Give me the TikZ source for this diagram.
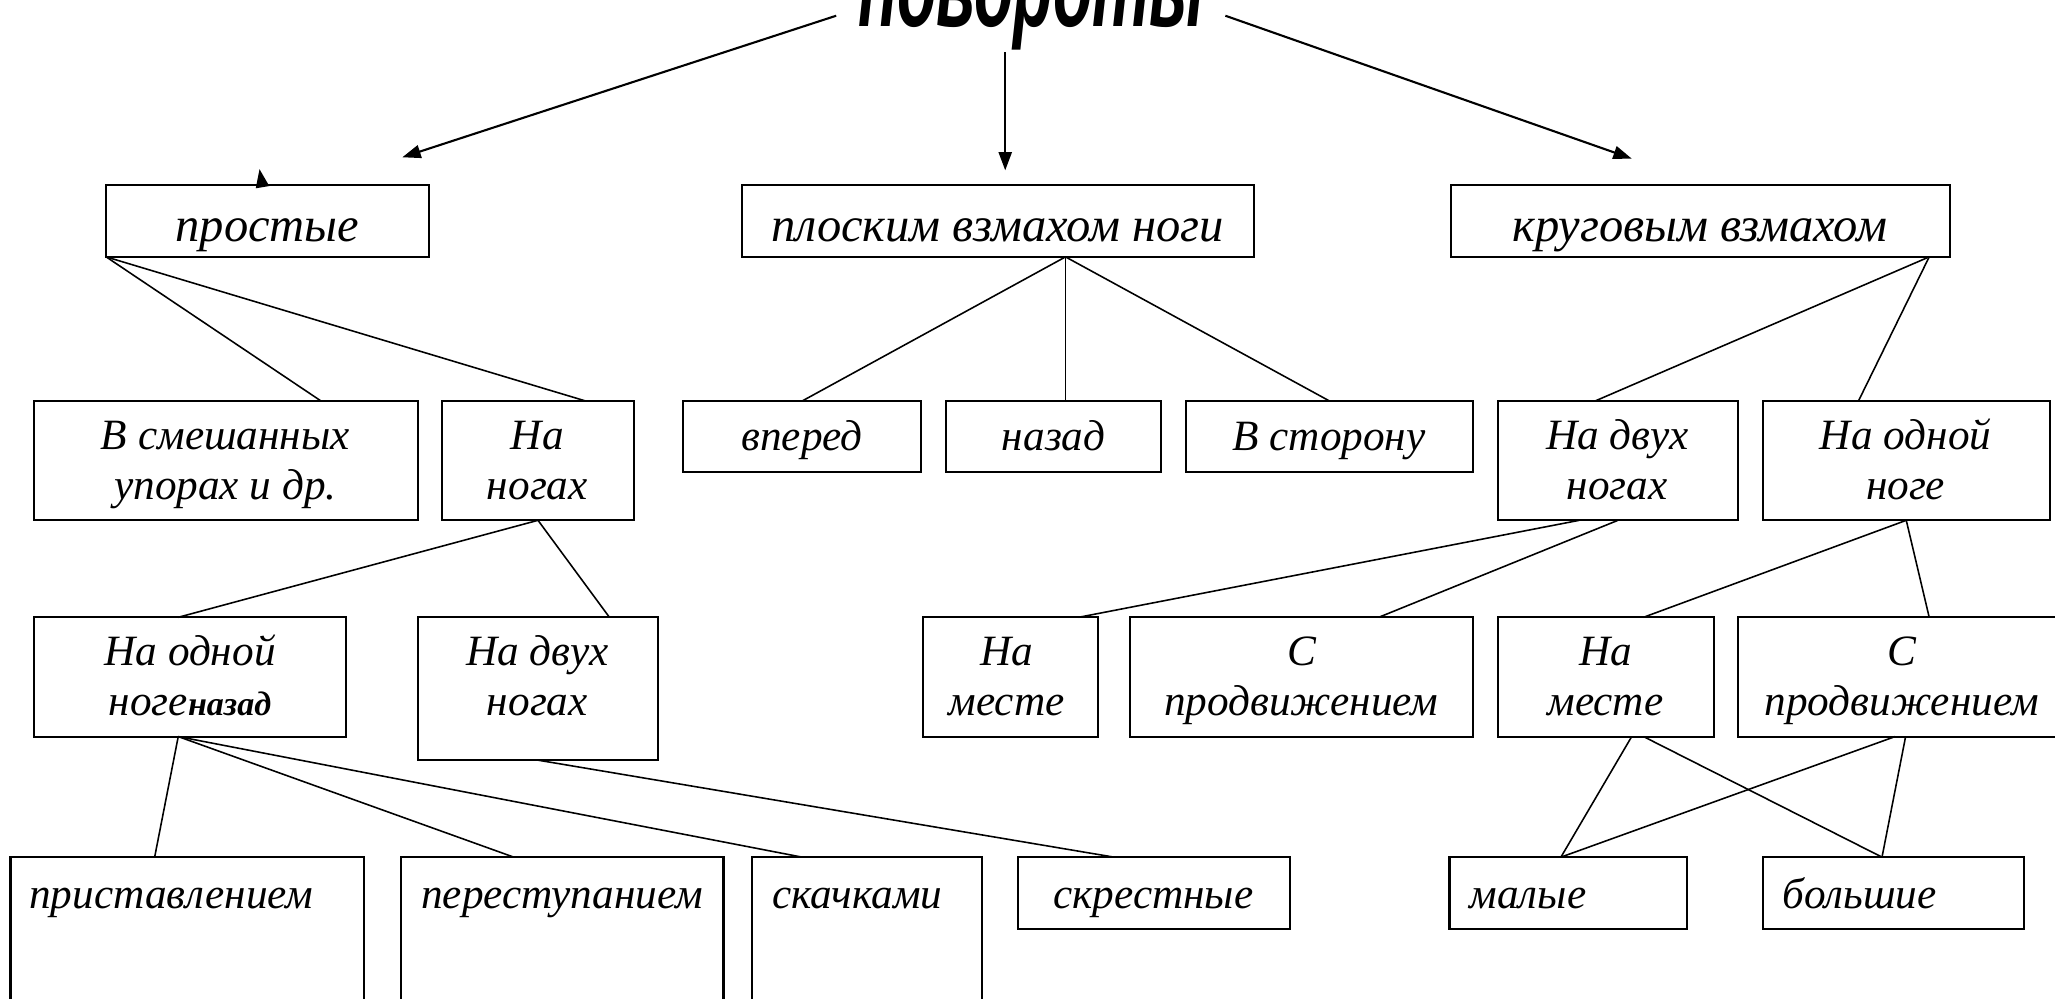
\documentclass[tikz,border=0pt]{standalone}
\usepackage{graphicx}
\usepackage{fontspec}
\setmainfont{Liberation Serif}
\newfontfamily\titlefont{Liberation Sans}
\usetikzlibrary{calc,arrows.meta}
\tikzset{
  box/.style={draw, line width=0.8pt, inner sep=0pt, outer sep=0pt},
  txt/.style={font=\fontsize{16.5}{19}\selectfont\itshape, inner sep=0pt, align=center, anchor=base},
  bigtxt/.style={txt, font=\fontsize{18.5}{21}\selectfont\itshape},
  ltxt/.style={font=\fontsize{16.5}{19}\selectfont\itshape, inner sep=0pt, anchor=base west},
  link/.style={line width=0.6pt},
  arr/.style={line width=0.8pt, -{Triangle[length=7pt,width=5pt]}},
}
\newcommand\mkbox[5]{\node[box, minimum width={(#4-#2)*0.5pt}, minimum height={(#5-#3)*0.5pt}] (#1) at ({(#2+#4)/2},{(#3+#5)/2}) {};}
\begin{document}
\begin{tikzpicture}[x=0.5pt,y=-0.5pt]
\useasboundingbox (0,0) rectangle (1568,762);
\clip (0,0) rectangle (1568,762);
\fill[white] (0,0) rectangle (1568,762);
% title
\node[inner sep=0pt, anchor=base, font=\titlefont\bfseries\itshape\fontsize{43.5}{50}\selectfont] (title) at (787,20) {\scalebox{0.565}[1]{повороты}};
% row 1
\mkbox{prost}{81}{141}{327}{196}
\mkbox{plosk}{566}{141}{957}{196}
\mkbox{krug}{1107}{141}{1488}{196}
% row 2
\mkbox{smesh}{26}{306}{319}{397}
\mkbox{nogah}{337}{306}{484}{397}
\mkbox{vpered}{521}{306}{703}{360}
\mkbox{nazad}{722}{306}{886}{360}
\mkbox{vstor}{905}{306}{1124}{360}
\mkbox{dvuhR}{1143}{306}{1326}{397}
\mkbox{odnoyR}{1345}{306}{1564}{397}
% row 3
\mkbox{odnoyL}{26}{471}{264}{562}
\mkbox{dvuhL}{319}{471}{502}{580}
\mkbox{mestA}{704}{471}{838}{562}
\mkbox{prodA}{862}{471}{1124}{562}
\mkbox{mestB}{1143}{471}{1308}{562}
\mkbox{prodB}{1326}{471}{1580}{562}
% row 4
\mkbox{prist}{8}{654}{278}{790}
\mkbox{perest}{306}{654}{552}{790}
\mkbox{skach}{574}{654}{749}{790}
\mkbox{skrest}{777}{654}{984}{709}
\mkbox{malye}{1106}{654}{1287}{709}
\mkbox{bolsh}{1345}{654}{1544}{709}
% texts (anchor = baseline of last line)
\node[bigtxt] at (204,184) {простые};
\node[bigtxt] at (761,184) {плоским взмахом ноги};
\node[bigtxt] at (1297,184) {круговым взмахом};
\node[txt] at (172,381) {В смешанных\\упорах и др.};
\node[txt] at (410,381) {На\\ногах};
\node[txt] at (612,344) {вперед};
\node[txt] at (804,344) {назад};
\node[txt] at (1014,344) {В сторону};
\node[txt] at (1234,381) {На двух\\ногах};
\node[txt] at (1454,381) {На одной\\ноге};
\node[txt] at (145,546) {На одной\\ноге{\bfseries\fontsize{13}{19}\selectfont назад}};
\node[txt] at (410,546) {На двух\\ногах};
\node[txt] at (768,546) {На\\месте};
\node[txt] at (993,546) {С\\продвижением};
\node[txt] at (1225,546) {На\\месте};
\node[txt] at (1451,546) {С\\продвижением};
\node[ltxt] at (22,693) {приставлением};
\node[ltxt] at (321,693) {переступанием};
\node[ltxt] at (589,693) {скачками};
\node[txt] at (880,693) {скрестные};
\node[ltxt] at (1121,693) {малые};
\node[ltxt] at (1360,693) {большие};
% arrows from title
\coordinate (tl) at (638,12);
\coordinate (tm) at (767,40);
\coordinate (tr) at (935,12);
\coordinate (el) at (307,120);
\coordinate (em) at (767,130);
\coordinate (er) at (1245,121);
\draw[arr] (tl) -- (el);
\draw[arr] (tm) -- (em);
\draw[arr] (tr) -- (er);
\draw[arr] ($(prost.north west)+(119,0)$) -- ($(prost.north west)+(117,-12)$);
% links
\draw[link] (prost.south west) -- ($(smesh.north west)+(219,0)$);
\draw[link] (prost.south west) -- ($(nogah.north west)+(110,0)$);
\draw[link] ($(plosk.south west)+(247,0)$) -- (vpered.north);
\draw[link] ($(plosk.south west)+(247,0)$) -- ($(nazad.north west)+(91,0)$);
\draw[link] ($(plosk.south west)+(247,0)$) -- (vstor.north);
\draw[link] ($(krug.south east)+(-16,0)$) -- ($(dvuhR.north west)+(74,0)$);
\draw[link] ($(krug.south east)+(-16,0)$) -- ($(odnoyR.north west)+(73,0)$);
\draw[link] (nogah.south) -- ($(odnoyL.north west)+(110,0)$);
\draw[link] (nogah.south) -- ($(dvuhL.north west)+(146,0)$);
\draw[link] ($(dvuhR.south west)+(62,0)$) -- ($(mestA.north west)+(119,0)$);
\draw[link] (dvuhR.south) -- ($(prodA.north west)+(190,0)$);
\draw[link] (odnoyR.south) -- ($(mestB.north west)+(111,0)$);
\draw[link] (odnoyR.south) -- ($(prodB.north west)+(146,0)$);
\draw[link] ($(odnoyL.south west)+(110,0)$) -- ($(prist.north west)+(110,0)$);
\draw[link] ($(odnoyL.south west)+(110,0)$) -- ($(perest.north west)+(86,0)$);
\draw[link] ($(odnoyL.south west)+(110,0)$) -- ($(skach.north west)+(38,0)$);
\draw[link] (dvuhL.south) -- ($(skrest.north west)+(73,0)$);
\draw[link] ($(mestB.south west)+(102,0)$) -- ($(malye.north west)+(85,0)$);
\draw[link] ($(mestB.south west)+(111,0)$) -- ($(bolsh.north west)+(91,0)$);
\draw[link] ($(prodB.south west)+(120,0)$) -- ($(malye.north west)+(85,0)$);
\draw[link] ($(prodB.south west)+(128,0)$) -- ($(bolsh.north west)+(91,0)$);
\end{tikzpicture}
\end{document}
